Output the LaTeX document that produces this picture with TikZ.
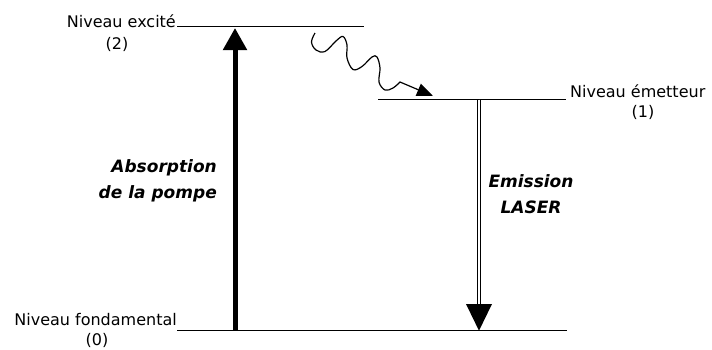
\documentclass[tikz,border=0pt]{standalone}
\usepackage{fontspec}
\setmainfont{DejaVu Sans}
\usetikzlibrary{arrows.meta,calc}
\tikzset{
  level/.style={line width=1.2pt},
  lbl/.style={inner sep=0pt, font=\fontsize{16}{19}\selectfont},
  biglbl/.style={inner sep=0pt, font=\fontsize{17}{26}\selectfont\bfseries\itshape},
  pump/.style={line width=5pt, -{Triangle[length=22pt,width=23pt]}},
  emis/.style={double, double distance=2.2pt, line width=1.3pt},
  wave/.style={line width=1.2pt, -{Triangle[length=16pt,width=13pt]}}
}
\begin{document}
\begin{tikzpicture}[x=1pt,y=-1pt]
\useasboundingbox (0,0) rectangle (712,349);
% levels
\coordinate (L2a) at (177,26.7);
\coordinate (L2b) at (364,26.7);
\coordinate (L1a) at (378,99.5);
\coordinate (L1b) at (566,99.5);
\coordinate (L0a) at (177,330.7);
\coordinate (L0b) at (567,330.7);
\draw[level] (L2a) -- (L2b);
\draw[level] (L1a) -- (L1b);
\draw[level] (L0a) -- (L0b);
% labels
\node[lbl, anchor=base east] (n2) at (176,27) {Niveau excité};
\node[lbl, anchor=base] (n2b) at (117,49.5) {(2)};
\node[lbl, anchor=base west] (n1) at (570,97) {Niveau émetteur};
\node[lbl, anchor=base] (n1b) at (643,117) {(1)};
\node[lbl, anchor=base east] (n0) at (177,325) {Niveau fondamental};
\node[lbl, anchor=base] (n0b) at (97,345.5) {(0)};
% pump arrow
\coordinate (p0) at (235,330.7);
\coordinate (p2) at (235,28);
\draw[pump] (p0) -- (p2);
\node[biglbl, anchor=north east, align=right] (abs) at (217,159) {Absorption\\de la pompe};
% emission arrow
\coordinate (e1) at (479,99.5);
\coordinate (eh) at (479,304);
\coordinate (e0) at (479,330.7);
\draw[emis] (e1) -- ($(eh)+(0,3)$);
\fill ($(eh)+(-13,0)$) -- (e0) -- ($(eh)+(13,0)$) -- cycle;
\node[biglbl, anchor=north, align=center] (em) at (531,174) {Emission\\LASER};
% non-radiative decay
\coordinate (w0) at (315,33);
\coordinate (w1) at (433,96);
\draw[wave] plot[smooth, tension=0.6] coordinates {(w0) (311.5,42) (316,50) (325,51.5) (336,41) (343,36.5) (347,45) (347,58) (353,69.5) (362,66.5) (372,57) (377,57) (380,68) (379,82) (385,90) (393,88) (400,82)} -- (w1);
\end{tikzpicture}
\end{document}
